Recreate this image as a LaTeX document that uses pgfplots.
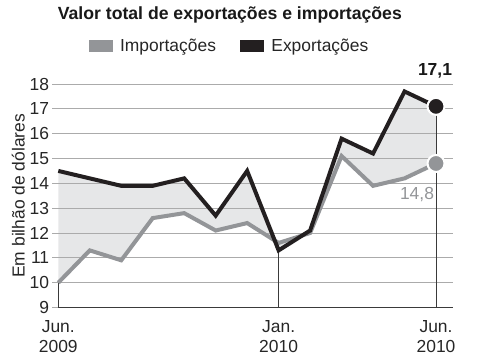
\documentclass[border=0pt]{standalone}
\usepackage{pgfplots}
\pgfplotsset{compat=1.18}
\usepgfplotslibrary{fillbetween}
\usepackage{pgfplotstable}
\usepackage{fontspec}
\setmainfont{Liberation Sans}

\definecolor{expc}{HTML}{231F20}
\definecolor{impc}{HTML}{939598}
\definecolor{fillc}{HTML}{E6E7E8}
\definecolor{gridc}{HTML}{ABABAB}
\definecolor{dropc}{HTML}{3A3A3A}

\newcommand{\lblfont}{\fontsize{17.5}{20}\selectfont}

% monthly values, Jun 2009 (0) to Jun 2010 (12), in billion dollars
\pgfplotstableread{
m  exp   imp
0  14.5  10.0
1  14.2  11.3
2  13.9  10.9
3  13.9  12.6
4  14.2  12.8
5  12.7  12.1
6  14.5  12.4
7  11.3  11.6
8  12.1  12.0
9  15.8  15.1
10 15.2  13.9
11 17.7  14.2
12 17.1  14.8
}\trade
\tikzset{fill between/on layer=axis background}

\begin{document}
\begin{tikzpicture}
\begin{axis}[
  set layers,
  at={(0,0)}, anchor=south west,
  scale only axis, width=394.4bp, height=223.5bp,
  xmin=0, xmax=12.53, ymin=9, ymax=18,
  clip=false,
  axis x line*=bottom, axis y line*=left,
  x axis line style={-, draw=dropc, line width=1bp},
  y axis line style={draw=none},
  ymajorgrids, major grid style={gridc, line width=1bp},
  ytick={9,...,18},
  y tick style={gridc, line width=1bp},
  tick align=outside, major tick length=6bp,
  xtick={0,7,12},
  x tick style={draw=none},
  xticklabels={{Jun.\\2009},{Jan.\\2010},{Jun.\\2010}},
  /pgf/number format/assume math mode=true,
  ticklabel style={font=\lblfont, text=black!85},
  yticklabel style={inner sep=0pt, xshift=-3bp},
  xticklabel style={align=center, inner sep=0pt, yshift=-7bp},
  ylabel={Em bilhão de dólares},
  ylabel style={at={(axis description cs:0,0.5)}, anchor=center, yshift=40bp, font=\lblfont, text=black!85},
  title={Valor total de exportações e importações},
  title style={at={(0.435,1)}, anchor=center, yshift=63bp, font=\bfseries\fontsize{17.7}{20}\selectfont, text=black!90},
  legend columns=2,
  legend style={at={(0.434,1)}, anchor=center, yshift=38bp, draw=none, fill=none,
    font=\lblfont, text=black!85, inner sep=0pt,
    /tikz/every even column/.append style={column sep=22bp}},
]
% legend swatches
\addlegendimage{legend image code/.code={\fill[impc] (0bp,-5.5bp) rectangle (23bp,5.5bp); \path (29bp,0bp);}}
\addlegendentry{Importações}
\addlegendimage{legend image code/.code={\fill[expc] (0bp,-5.5bp) rectangle (23bp,5.5bp); \path (29bp,0bp);}}
\addlegendentry{Exportações}

% drop lines
\addplot[dropc, line width=1bp, forget plot] coordinates {(0,9) (0,10)};
\addplot[dropc, line width=1bp, forget plot] coordinates {(7,9) (7,11.3)};
\addplot[dropc, line width=1bp, forget plot] coordinates {(12,9) (12,17.1)};

% series
\addplot[name path=imp, impc, line width=4bp, line join=miter, forget plot] table[x=m, y=imp] {\trade};
\addplot[name path=exp, expc, line width=4bp, line join=miter, forget plot] table[x=m, y=exp] {\trade};
\addplot[fillc, forget plot] fill between[of=exp and imp];

% end points
\addplot[only marks, mark=*, mark size=8.5bp, mark options={fill=expc, draw=white, line width=2bp}, forget plot] coordinates {(12,17.1)};
\addplot[only marks, mark=*, mark size=8.5bp, mark options={fill=impc, draw=white, line width=2bp}, forget plot] coordinates {(12,14.8)};

\node[font=\bfseries\lblfont, text=black!90] at (axis cs:12,17.1) [xshift=-1bp, yshift=36bp] {17,1};
\node[font=\lblfont, text=impc] at (axis cs:12,14.8) [xshift=-19bp, yshift=-31bp] {14,8};
\end{axis}
\pgfresetboundingbox
\path (-58.3bp,-53.5bp) rectangle (421.7bp,307.5bp);
\end{tikzpicture}
\end{document}
